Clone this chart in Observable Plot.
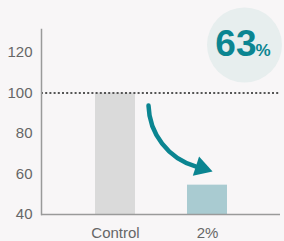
<!DOCTYPE html>
<html>
<head>
<meta charset="utf-8">
<script src="https://cdn.jsdelivr.net/npm/d3@7"></script>
<script src="https://cdn.jsdelivr.net/npm/@observablehq/plot@0.6"></script>
<style>
  html, body { margin: 0; padding: 0; background: #f8f6f7; }
  #chart svg { display: block; }
</style>
</head>
<body>
<div id="chart"></div>
<script>
// Data
const categories = ["Control", "2%"];
const values = [100, 54.5];
const yTicks = [40, 60, 80, 100, 120];
const referenceValue = [100];
const badgeNumber = ["63"];
const badgeUnit = ["%"];
// Arrow annotation (category anchor, value, pixel nudge from band centre)
const arrowStart = { x: "Control", y: 93.8, nudge: 33 };
const arrowEnd = { x: "2%", y: 63.8, nudge: -12 };
const arrowHead = { x: "2%", y: 63.0, nudge: -6 };

const barFill = { "Control": "#dadada", "2%": "#a9cbd1" };
const teal = "#0b8591";

const bars = categories.map((c, i) => ({ category: c, value: values[i] }));

const plot = Plot.plot({
  width: 284,
  height: 241,
  marginLeft: 41,
  marginRight: 4,
  marginTop: 29,
  marginBottom: 27,
  style: { background: "#f8f6f7", fontFamily: "'Liberation Sans', Arial, sans-serif", fontSize: "15px", color: "#666" },
  x: { domain: categories, padding: 0.57, label: null },
  y: { domain: [40, 131.4], label: null },
  marks: [
    Plot.dot([0], { frameAnchor: "top-right", r: 37.5, dx: -36, dy: 15.5, fill: "#e7eeee", stroke: "none" }),
    Plot.text(badgeNumber, { text: d => d, frameAnchor: "top-right", textAnchor: "end", lineAnchor: "bottom", dx: -24, dy: 26, fill: teal, fontSize: 37, fontWeight: "bold", letterSpacing: "-2px" }),
    Plot.text(badgeUnit, { text: d => d, frameAnchor: "top-right", textAnchor: "start", lineAnchor: "bottom", dx: -25, dy: 26, fill: teal, fontSize: 17, fontWeight: "bold" }),
    Plot.barY(bars, { x: "category", y1: 40, y2: "value", fill: d => barFill[d.category] }),
    Plot.ruleY(referenceValue, { stroke: "#555", strokeWidth: 2, strokeDasharray: "2,2.2" }),
    Plot.ruleY([40], { stroke: "#9a9a9a", strokeWidth: 1.5 }),
    Plot.frame({ anchor: "left", stroke: "#9a9a9a", strokeWidth: 1.5 }),
    Plot.arrow([[arrowStart, arrowEnd]], {
      x1: d => d[0].x, y1: d => d[0].y, x2: d => d[1].x, y2: d => d[1].y,
      bend: -36, stroke: teal, strokeWidth: 4.5, headLength: 0,
      render(index, scales, vals, dimensions, context, next) {
        const x1 = Array.from(vals.x1, v => v + arrowStart.nudge);
        const x2 = Array.from(vals.x2, v => v + arrowEnd.nudge);
        return next(index, scales, { ...vals, x1, x2 }, dimensions, context);
      }
    }),
    Plot.dot([arrowHead], { x: "x", y: "y", dx: arrowHead.nudge, symbol: "triangle", r: 7.5, rotate: 108, fill: teal, stroke: "none" }),
    Plot.axisY({ ticks: yTicks, tickSize: 0, tickPadding: 9, fontSize: 15, fill: "#666" }),
    Plot.axisX({ tickSize: 0, tickPadding: 13, fontSize: 15, fill: "#666" })
  ]
});
document.getElementById("chart").appendChild(plot);
</script>
</body>
</html>
